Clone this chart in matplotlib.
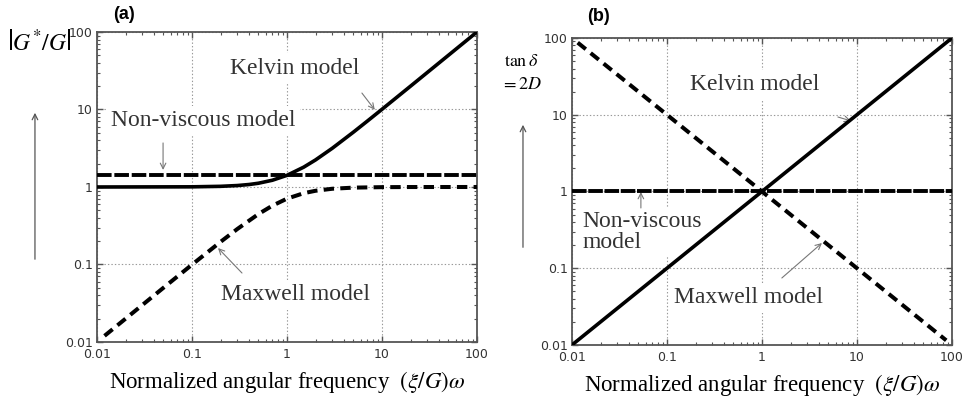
import matplotlib
matplotlib.use("Agg")
import matplotlib.pyplot as plt
import matplotlib.ticker as mticker

plt.rcParams["font.family"] = ["Liberation Serif", "DejaVu Serif"]
plt.rcParams["mathtext.fontset"] = "stix"
plt.rcParams["lines.scale_dashes"] = False

# ---- data ----
# (a) |G*/G| versus normalized angular frequency
kelvin_a_x = [0.01, 0.1, 0.2, 0.3, 0.4, 0.5, 0.7, 1.0, 1.5, 2.0, 3.0, 5.0, 7.0, 10.0, 20.0, 50.0, 100.0]
kelvin_a_y = [1.0, 1.005, 1.02, 1.044, 1.077, 1.118, 1.221, 1.414, 1.803, 2.236, 3.162, 5.099, 7.071, 10.05, 20.02, 50.01, 100.0]
maxwell_a_x = [0.012, 0.05, 0.1, 0.2, 0.3, 0.5, 0.7, 1.0, 1.5, 2.0, 3.0, 5.0, 10.0, 20.0, 100.0]
maxwell_a_y = [0.012, 0.05, 0.0995, 0.196, 0.287, 0.447, 0.573, 0.707, 0.832, 0.894, 0.949, 0.981, 0.995, 0.999, 1.0]
nonvisc_a_x = [0.01, 100.0]
nonvisc_a_y = [1.41, 1.41]

# (b) tan(delta) = 2D versus normalized angular frequency
kelvin_b_x = [0.01, 100.0]
kelvin_b_y = [0.01, 100.0]
maxwell_b_x = [0.0115, 87.0]
maxwell_b_y = [87.0, 0.0115]
nonvisc_b_x = [0.01, 100.0]
nonvisc_b_y = [1.0, 1.0]

tick_vals = [0.01, 0.1, 1, 10, 100]
tick_labels = ["0.01", "0.1", "1", "10", "100"]
xlabel = r"Normalized angular frequency  $(\xi/G)\omega$"

SPINE = "#555555"


def style_axes(ax):
    ax.set_xscale("log")
    ax.set_yscale("log")
    ax.set_xlim(0.01, 100)
    ax.set_ylim(0.01, 100)
    ax.set_xticks(tick_vals)
    ax.set_yticks(tick_vals)
    ax.set_xticklabels(tick_labels, family="DejaVu Sans")
    ax.set_yticklabels(tick_labels, family="DejaVu Sans")
    ax.xaxis.set_minor_locator(mticker.LogLocator(subs=range(2, 10)))
    ax.yaxis.set_minor_locator(mticker.LogLocator(subs=range(2, 10)))
    ax.xaxis.set_minor_formatter(mticker.NullFormatter())
    ax.yaxis.set_minor_formatter(mticker.NullFormatter())
    ax.tick_params(which="both", direction="in", top=True, right=True,
                   color=SPINE, labelsize=9, labelcolor="#333333")
    ax.tick_params(which="major", length=4, width=1)
    ax.tick_params(which="minor", length=2, width=0.8)
    ax.tick_params(axis="x", pad=4)
    ax.tick_params(axis="y", pad=3)
    ax.grid(True, which="major", linestyle=(0, (1, 1.5)), color="#999999", lw=0.8)
    for s in ax.spines.values():
        s.set_color(SPINE)
        s.set_linewidth(1.3)
    ax.set_xlabel(xlabel, fontsize=16.5, labelpad=6)


def label(ax, text, xy, tip, start, **kw):
    ax.text(xy[0], xy[1], text, fontsize=17, color="#333333", zorder=4,
            bbox=dict(facecolor="white", edgecolor="none", pad=3), **kw)
    ax.annotate("", xy=tip, xytext=start, zorder=5,
                arrowprops=dict(arrowstyle="->", color="#777777", lw=0.8,
                                shrinkA=0, shrinkB=0))


fig = plt.figure(figsize=(9.71, 4.04), dpi=100)
ax_a = fig.add_axes([0.0999, 0.1535, 0.3913, 0.7673])
ax_b = fig.add_axes([0.589, 0.146, 0.3914, 0.760])

for ax in (ax_a, ax_b):
    style_axes(ax)

# panel (a)
ax_a.plot(kelvin_a_x, kelvin_a_y, color="black", lw=2.6, zorder=6)
ax_a.plot(maxwell_a_x, maxwell_a_y, color="black", lw=2.9, dashes=(7.5, 4.5), zorder=6)
ax_a.plot(nonvisc_a_x, nonvisc_a_y, color="black", lw=2.8, dashes=(10.5, 2), zorder=6)

label(ax_a, "Kelvin model", (1.21, 34.3), (8.4, 9.9), (6.15, 16.3), ha="center", va="center")
label(ax_a, "Non-viscous model", (0.131, 7.11), (0.0496, 1.66), (0.0496, 3.7), ha="center", va="center")
label(ax_a, "Maxwell model", (1.24, 0.0404), (0.188, 0.163), (0.336, 0.0776), ha="center", va="center")

# panel (b)
ax_b.plot(kelvin_b_x, kelvin_b_y, color="black", lw=2.6, zorder=6)
ax_b.plot(maxwell_b_x, maxwell_b_y, color="black", lw=2.9, dashes=(7.5, 4.5), zorder=6)
ax_b.plot(nonvisc_b_x, nonvisc_b_y, color="black", lw=2.8, dashes=(10.5, 1.2), zorder=6)

label(ax_b, "Kelvin model", (0.843, 24.4), (8.65, 8.3), (6.3, 9.35), ha="center", va="center")
label(ax_b, "Non-viscous\nmodel", (0.013, 0.296), (0.0532, 0.985), (0.0532, 0.61),
      ha="left", va="center", linespacing=0.95)
label(ax_b, "Maxwell model", (0.73, 0.041), (4.28, 0.213), (1.62, 0.0747), ha="center", va="center")

# y-axis labels with upward arrows
fig.text(0.040, 0.894, r"$\left|G^{*}/G\right|$", fontsize=17, ha="center", va="center")
fig.add_artist(matplotlib.patches.FancyArrowPatch(
    (0.036, 0.3515), (0.036, 0.7277), transform=fig.transFigure,
    arrowstyle="->", mutation_scale=10, color="#555555", lw=0.9))
fig.text(0.537, 0.849, r"$\tan\delta$", fontsize=13, ha="center", va="center")
fig.text(0.5376, 0.79, r"$=2D$", fontsize=13, ha="center", va="center")
fig.add_artist(matplotlib.patches.FancyArrowPatch(
    (0.5386, 0.381), (0.5386, 0.698), transform=fig.transFigure,
    arrowstyle="->", mutation_scale=10, color="#555555", lw=0.9))

# panel letters
fig.text(0.1277, 0.963, "(a)", fontsize=13, fontweight="bold",
         family="Liberation Sans", ha="center", va="center")
fig.text(0.616, 0.958, "(b)", fontsize=13, fontweight="bold",
         family="Liberation Sans", ha="center", va="center")

fig.savefig("out.png", dpi=100)
